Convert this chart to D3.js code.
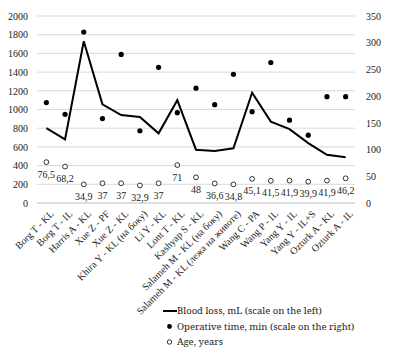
<!DOCTYPE html>
<html>
<head>
<meta charset="utf-8">
<script src="https://cdn.jsdelivr.net/npm/d3@7"></script>
<style>
  body { margin: 0; background: #fff; }
  text { font-family: "Liberation Serif", "Times New Roman", serif; fill: #222; }
</style>
</head>
<body>
<div class="canvas"></div>
<script>
// data
const categories = ['Borg T - KL', 'Borg T - IL', 'Harris A - KL', 'Xue Z - PF', 'Xue Z - KL',
  'Khira Y - KL (на боку)', 'Li Y - KL', 'Lont T - KL', 'Kashyap S - KL', 'Salameh M - KL (на боку)',
  'Salameh M - KL (лежа на животе)', 'Wang C - PA', 'Wang P - IL', 'Yang Y - IL', 'Yang Y - IL+S',
  'Ozturk A - KL', 'Ozturk A - IL'];
const bloodLoss = [800, 680, 1730, 1055, 940, 920, 745, 1100, 570, 555, 585, 1180, 870, 790, 640, 515, 490];
const opTime = [188, 166, 320, 158, 278, 135, 254, 169, 215, 184, 241, 171, 263, 155, 127, 199, 199];
const age = [76.5, 68.2, 34.9, 37, 37, 32.9, 37, 71, 48, 36.6, 34.8, 45.1, 41.5, 41.9, 39.9, 41.9, 46.2];
const leftTicks = d3.range(0, 2001, 200);
const rightTicks = d3.range(0, 351, 50);
const legendLabels = ['Blood loss, mL (scale on the left)', 'Operative time, min (scale on the right)', 'Age, years'];

// margins
const margin = {top: 16, right: 38, bottom: 159, left: 37};
const width = 393, height = 362;
const graphWidth = width - margin.left - margin.right;
const graphHeight = height - margin.top - margin.bottom;
const serif = '"Liberation Serif", "Times New Roman", serif';

const svg = d3.select('.canvas').append('svg')
    .attr('width', width)
    .attr('height', height);

const graph = svg.append('g')
    .attr('transform', `translate(${margin.left}, ${margin.top})`);

// scales
const x = d3.scalePoint()
    .domain(categories)
    .range([0, graphWidth])
    .padding(0.5);
const yLeft = d3.scaleLinear().domain([0, 2000]).range([graphHeight, 0]);
const yRight = d3.scaleLinear().domain([0, 350]).range([graphHeight, 0]);

// gridlines
graph.append('g')
  .selectAll('line')
  .data(leftTicks)
  .join('line')
    .attr('x1', 0)
    .attr('x2', graphWidth)
    .attr('y1', d => yLeft(d))
    .attr('y2', d => yLeft(d))
    .attr('stroke', d => d === 0 ? '#bfbfbf' : '#d9d9d9')
    .attr('stroke-width', 1);

// left axis
const yAxisLeft = graph.append('g')
    .call(d3.axisLeft(yLeft).tickValues(leftTicks).tickFormat(d3.format('d')).tickSize(0).tickPadding(9))
    .attr('font-family', serif)
    .attr('font-size', 10);
yAxisLeft.select('.domain').remove();

// right axis
const yAxisRight = graph.append('g')
    .attr('transform', `translate(${graphWidth}, 0)`)
    .call(d3.axisRight(yRight).tickValues(rightTicks).tickFormat(d3.format('d')).tickSize(0).tickPadding(11))
    .attr('font-family', serif)
    .attr('font-size', 10);
yAxisRight.select('.domain').remove();

// x labels
const xAxis = graph.append('g')
    .attr('transform', `translate(0, ${graphHeight})`)
    .call(d3.axisBottom(x).tickSize(0).tickPadding(0))
    .attr('font-family', serif)
    .attr('font-size', 10);
xAxis.select('.domain').remove();
xAxis.selectAll('.tick text')
    .attr('text-anchor', 'end')
    .attr('x', 0)
    .attr('y', 0)
    .attr('dy', '0.35em')
    .attr('transform', 'translate(5,9) rotate(-45)');

// blood loss line
const line = d3.line()
    .x((d, i) => x(categories[i]))
    .y(d => yLeft(d));
graph.append('path')
    .datum(bloodLoss)
    .attr('d', line)
    .attr('fill', 'none')
    .attr('stroke', '#000')
    .attr('stroke-width', 2)
    .attr('stroke-linejoin', 'miter');

// operative time dots
graph.append('g')
  .selectAll('circle')
  .data(opTime)
  .join('circle')
    .attr('cx', (d, i) => x(categories[i]))
    .attr('cy', d => yRight(d))
    .attr('r', 2.6)
    .attr('fill', '#000');

// age circles
graph.append('g')
  .selectAll('circle')
  .data(age)
  .join('circle')
    .attr('cx', (d, i) => x(categories[i]))
    .attr('cy', d => yRight(d))
    .attr('r', 2.4)
    .attr('fill', '#fff')
    .attr('stroke', '#000')
    .attr('stroke-width', 0.8);

// age labels
graph.append('g')
  .selectAll('text')
  .data(age)
  .join('text')
    .attr('x', (d, i) => x(categories[i]))
    .attr('y', d => yRight(d) + 12)
    .attr('dy', '0.35em')
    .attr('text-anchor', 'middle')
    .attr('font-size', 10)
    .text(d => String(d).replace('.', ','));

// legend
const legend = svg.append('g').attr('transform', 'translate(163, 311)');
const rowH = 15.5;
legend.append('line')
    .attr('x1', 0).attr('x2', 14)
    .attr('y1', 0).attr('y2', 0)
    .attr('stroke', '#000').attr('stroke-width', 2);
legend.append('circle')
    .attr('cx', 6.5).attr('cy', rowH)
    .attr('r', 2.4).attr('fill', '#000');
legend.append('circle')
    .attr('cx', 6.5).attr('cy', rowH * 2)
    .attr('r', 2.2).attr('fill', '#fff')
    .attr('stroke', '#000').attr('stroke-width', 0.8);
legend.selectAll('text.leg')
  .data(legendLabels)
  .join('text')
    .attr('class', 'leg')
    .attr('x', 14)
    .attr('y', (d, i) => i * rowH)
    .attr('dy', '0.35em')
    .attr('font-size', 9.5)
    .style('font-family', '"Noto Serif", serif')
    .text(d => d);
</script>
</body>
</html>
